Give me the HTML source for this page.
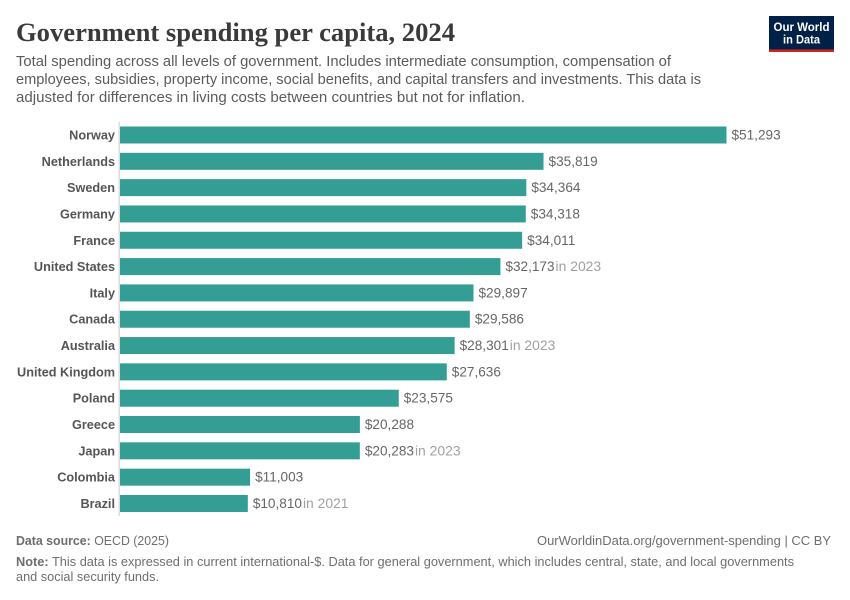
<!DOCTYPE html>
<html lang="en">
<head>
<meta charset="utf-8">
<title>Government spending per capita, 2024</title>
<style>
html,body{margin:0;padding:0;background:#fff;width:850px;height:600px;overflow:hidden}
svg{display:block;font-family:"Liberation Sans",sans-serif}
</style>
</head>
<body>
<svg id="chart" width="850" height="600" viewBox="0 0 850 600" xmlns="http://www.w3.org/2000/svg">
  <rect width="850" height="600" fill="#fff"/>
  <text x="16" y="41" font-family="'Liberation Serif',serif" font-weight="700" font-size="26" fill="#3a3a3a" textLength="439" lengthAdjust="spacingAndGlyphs">Government spending per capita, 2024</text>
  <g font-size="14.5" fill="#5b5b5b">
    <text x="16" y="66" textLength="655" lengthAdjust="spacingAndGlyphs">Total spending across all levels of government. Includes intermediate consumption, compensation of</text>
    <text x="16" y="84" textLength="685" lengthAdjust="spacingAndGlyphs">employees, subsidies, property income, social benefits, and capital transfers and investments. This data is</text>
    <text x="16" y="102" textLength="509" lengthAdjust="spacingAndGlyphs">adjusted for differences in living costs between countries but not for inflation.</text>
  </g>
  <g>
    <rect x="769" y="16" width="65" height="36" fill="#002147"/>
    <rect x="769" y="49.5" width="65" height="2.5" fill="#ce261e"/>
    <text x="801.5" y="31" text-anchor="middle" font-size="11.5" font-weight="700" fill="#fff" textLength="56" lengthAdjust="spacingAndGlyphs">Our World</text>
    <text x="801.5" y="43.5" text-anchor="middle" font-size="11.5" font-weight="700" fill="#fff" textLength="37" lengthAdjust="spacingAndGlyphs">in Data</text>
  </g>
  <line x1="119.2" y1="122" x2="119.2" y2="516" stroke="#dddddd" stroke-width="1.5"/>
  <g id="bars"></g>
  <g font-size="13" fill="#6e6e6e">
    <text x="16" y="545" textLength="153" lengthAdjust="spacingAndGlyphs"><tspan font-weight="700">Data source:</tspan> OECD (2025)</text>
    <text x="831" y="545" text-anchor="end" textLength="294" lengthAdjust="spacingAndGlyphs">OurWorldinData.org/government-spending | CC BY</text>
    <text x="16" y="566" textLength="778" lengthAdjust="spacingAndGlyphs"><tspan font-weight="700">Note:</tspan> This data is expressed in current international-$. Data for general government, which includes central, state, and local governments</text>
    <text x="16" y="581" textLength="143" lengthAdjust="spacingAndGlyphs">and social security funds.</text>
  </g>
</svg>
<script>
const countries = ["Norway","Netherlands","Sweden","Germany","France","United States","Italy","Canada","Australia","United Kingdom","Poland","Greece","Japan","Colombia","Brazil"];
const spending = [51293,35819,34364,34318,34011,32173,29897,29586,28301,27636,23575,20288,20283,11003,10810];
const dataYears = [null,null,null,null,null,2023,null,null,2023,null,null,null,2023,null,2021];

const NS = "http://www.w3.org/2000/svg";
const plotLeft = 120;
const plotRight = 726.5;
const domainMax = 51293;
const firstBarTop = 126.5;
const rowStep = 26.32;
const barHeight = 17;
const xScale = v => (v / domainMax) * (plotRight - plotLeft);
const yScale = i => firstBarTop + i * rowStep;
const money = v => "$" + v.toLocaleString("en-US");
const group = document.getElementById("bars");

function addText(x, y, str, size, fill, weight, anchor) {
  const t = document.createElementNS(NS, "text");
  t.setAttribute("x", x);
  t.setAttribute("y", y);
  t.setAttribute("font-size", size);
  t.setAttribute("fill", fill);
  if (weight) t.setAttribute("font-weight", weight);
  if (anchor) t.setAttribute("text-anchor", anchor);
  t.textContent = str;
  group.appendChild(t);
  return t;
}

countries.forEach((name, i) => {
  const top = yScale(i);
  const w = xScale(spending[i]);
  const mid = top + barHeight / 2;

  const bar = document.createElementNS(NS, "rect");
  bar.setAttribute("x", plotLeft);
  bar.setAttribute("y", top);
  bar.setAttribute("width", w);
  bar.setAttribute("height", barHeight);
  bar.setAttribute("fill", "#349d94");
  
  
  group.appendChild(bar);

  const label = addText(115, mid + 4.5, name, 12.7, "#555555", "700", "end");
  
  

  const value = addText(plotLeft + w + 5, mid + 4.5, money(spending[i]), 13.6, "#666666");
  
  

  if (dataYears[i] !== null) {
    const yearX = plotLeft + w + 5 + value.getComputedTextLength() + 1;
    const year = addText(yearX, mid + 4.5, "in " + dataYears[i], 13.9, "#a1a1a1");
    
    
  }
});
</script>
</body>
</html>
